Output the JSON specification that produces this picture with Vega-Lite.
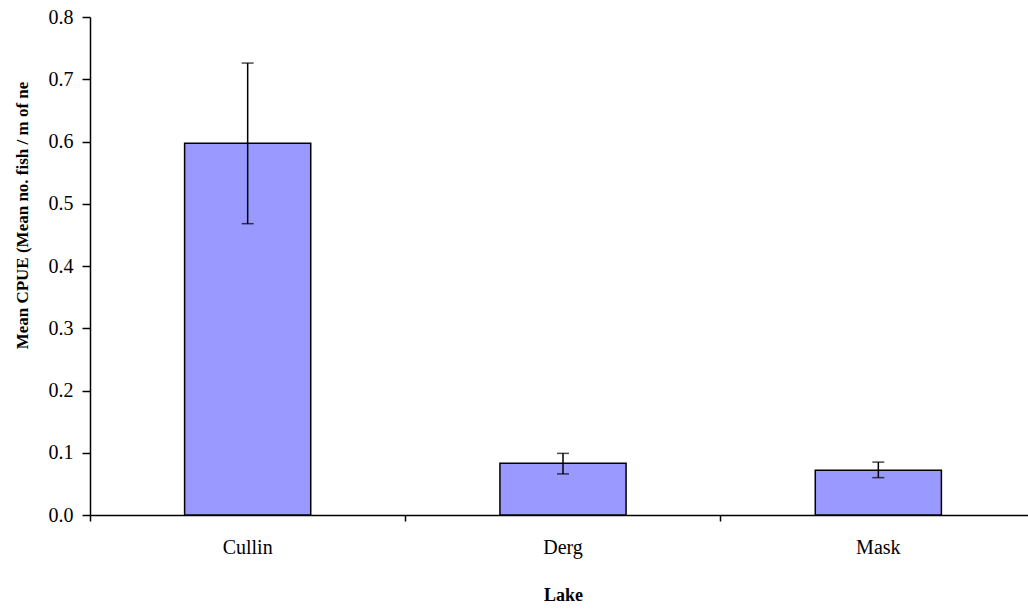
{
  "$schema": "https://vega.github.io/schema/vega-lite/v6.json",
  "width": 938,
  "height": 498,
  "autosize": {"type": "none"},
  "padding": {"left": 90, "top": 17, "right": 0, "bottom": 95},
  "background": "white",
  "config": {
    "view": {"stroke": null},
    "font": "Liberation Serif",
    "axis": {"grid": false, "domainColor": "black", "tickColor": "black", "labelColor": "black", "titleColor": "black", "labelFont": "Liberation Serif", "titleFont": "Liberation Serif"}
  },
  "data": {
    "values": [
      {"Lake": "Cullin", "mean": 0.597, "lo": 0.468, "hi": 0.726},
      {"Lake": "Derg", "mean": 0.083, "lo": 0.066, "hi": 0.099},
      {"Lake": "Mask", "mean": 0.072, "lo": 0.060, "hi": 0.085}
    ]
  },
  "encoding": {
    "x": {
      "field": "Lake", "type": "nominal",
      "scale": {"paddingInner": 0.6, "paddingOuter": 0.3, "range": [0, 946]},
      "axis": {
        "title": "Lake", "titleFontSize": 18, "titleFontWeight": "bold", "titlePadding": 29,
        "labelAngle": 0, "labelFontSize": 20, "labelPadding": 16,
        "tickSize": 6, "bandPosition": -0.75, "domainWidth": 1.5, "tickWidth": 1.5
      }
    }
  },
  "layer": [
    {
      "mark": {"type": "bar", "color": "#9999FF", "stroke": "black", "strokeWidth": 1.5},
      "encoding": {
        "y": {
          "field": "mean", "type": "quantitative",
          "scale": {"domain": [0, 0.8], "nice": false},
          "axis": {
            "title": "Mean CPUE (Mean no. fish / m of ne", "titleFontSize": 17, "titleFontWeight": "bold",
            "titleX": -68, "titleY": 198, "titleAngle": -90, "titleAlign": "center", "titleBaseline": "middle",
            "format": ".1f", "values": [0, 0.1, 0.2, 0.3, 0.4, 0.5, 0.6, 0.7, 0.8],
            "labelFontSize": 20, "labelPadding": 9, "tickSize": 8, "domainWidth": 1.5, "tickWidth": 1.5
          }
        }
      }
    },
    {
      "mark": {"type": "rule", "color": "black", "strokeWidth": 1.5},
      "encoding": {
        "y": {"field": "lo", "type": "quantitative"},
        "y2": {"field": "hi"}
      }
    },
    {
      "mark": {"type": "tick", "color": "black", "size": 12, "thickness": 1.5, "orient": "horizontal"},
      "encoding": {"y": {"field": "lo", "type": "quantitative"}}
    },
    {
      "mark": {"type": "tick", "color": "black", "size": 12, "thickness": 1.5, "orient": "horizontal"},
      "encoding": {"y": {"field": "hi", "type": "quantitative"}}
    }
  ]
}
